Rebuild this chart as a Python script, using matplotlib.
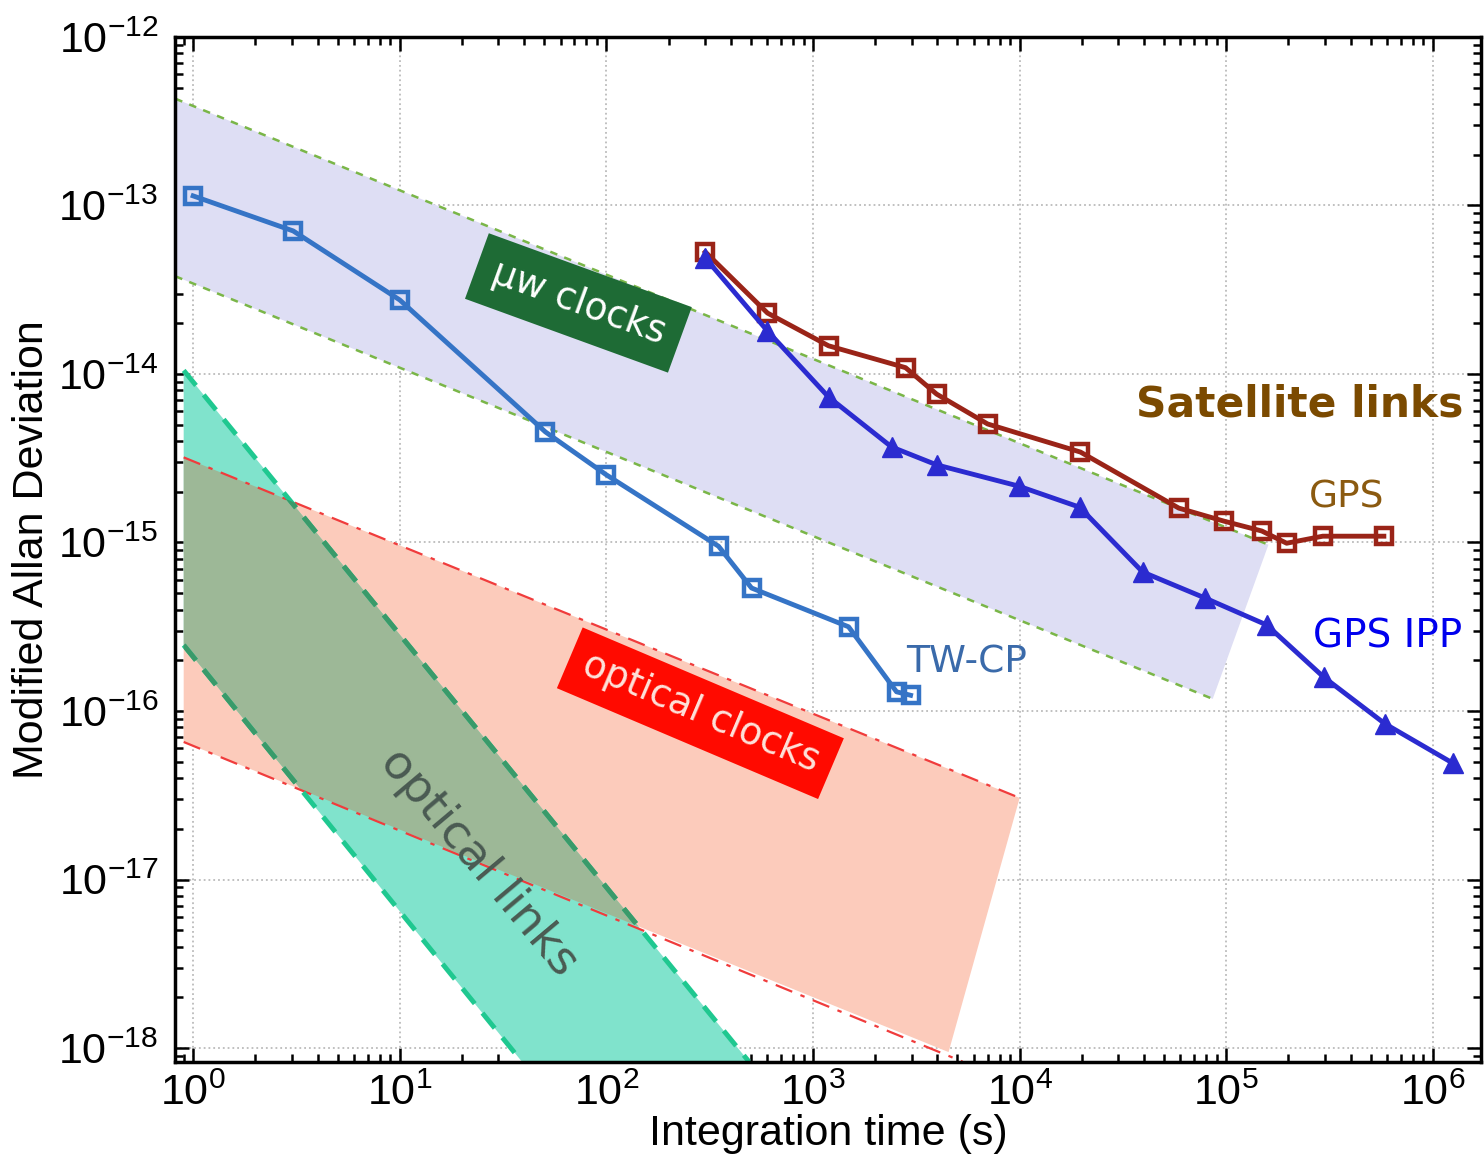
import numpy as np
import matplotlib
matplotlib.use('Agg')
import matplotlib.pyplot as plt
from matplotlib.patches import Polygon
from matplotlib.ticker import LogLocator, NullFormatter, FuncFormatter

plt.rcParams['font.family'] = 'Liberation Sans'
plt.rcParams['mathtext.fontset'] = 'custom'
plt.rcParams['mathtext.rm'] = 'Liberation Sans'
plt.rcParams['mathtext.it'] = 'Liberation Sans:italic'
plt.rcParams['axes.unicode_minus'] = False

# TW-CP
tw_tau = [1, 3.05, 10, 50.7, 100, 349, 504, 1486, 2537, 2966]
tw_adev = [1.14e-13, 7.06e-14, 2.75e-14, 4.53e-15, 2.52e-15, 9.5e-16, 5.37e-16, 3.16e-16, 1.30e-16, 1.24e-16]

# GPS
gps_tau = [301, 602, 1189, 2805, 3963, 7000, 19700, 58900, 97200, 148600, 196000, 293000, 579000]
gps_adev = [5.3e-14, 2.30e-14, 1.47e-14, 1.09e-14, 7.6e-15, 5.05e-15, 3.44e-15, 1.60e-15, 1.34e-15,
            1.17e-15, 9.9e-16, 1.09e-15, 1.09e-15]

# GPS IPP
ipp_tau = [301, 602, 1189, 2400, 3963, 9900, 19500, 39400, 78700, 157000, 296000, 586000, 1.25e6]
ipp_adev = [4.88e-14, 1.80e-14, 7.3e-15, 3.69e-15, 2.89e-15, 2.16e-15, 1.62e-15, 6.68e-16, 4.69e-16,
            3.24e-16, 1.59e-16, 8.4e-17, 4.9e-17]

# bands (edge end points)
mw_top_tau, mw_top_val = [0.82, 1.6e5], [4.3e-13, 9.7e-16]
mw_bot_tau, mw_bot_val = [0.82, 8.6e4], [3.8e-14, 1.18e-16]

oc_top_tau, oc_top_val = [0.9, 1.0e4], [3.2e-15, 3.05e-17]
oc_bot_tau, oc_bot_val = [0.9, 4530], [6.55e-17, 9.46e-19]
oc_bot_line_tau, oc_bot_line_val = [0.9, 5300], [6.55e-17, 8.3e-19]

ol_top_tau, ol_top_val = [0.9, 490], [1.05e-14, 8.3e-19]
ol_bot_tau, ol_bot_val = [0.9, 39], [2.46e-16, 8.3e-19]

x_ticks = [1e0, 1e1, 1e2, 1e3, 1e4, 1e5, 1e6]
y_ticks = [1e-18, 1e-17, 1e-16, 1e-15, 1e-14, 1e-13, 1e-12]

fig = plt.figure(figsize=(14.84, 11.55), dpi=100)
ax = fig.add_axes([0.118, 0.0805, 0.88, 0.8875])
ax.set_xscale('log')
ax.set_yscale('log')
ax.set_xlim(0.818, 1.71e6)
ax.set_ylim(8.26e-19, 1e-12)

# microwave clocks band
mw_poly = list(zip(mw_top_tau, mw_top_val)) + list(zip(mw_bot_tau[::-1], mw_bot_val[::-1]))
ax.add_patch(Polygon(mw_poly, closed=True, facecolor='#dedef4', edgecolor='none', zorder=1))
ax.plot(mw_top_tau, mw_top_val, color='#7ab648', lw=1.8, ls=(0, (3, 3)), zorder=2)
ax.plot(mw_bot_tau, mw_bot_val, color='#7ab648', lw=1.8, ls=(0, (3, 3)), zorder=2)

# optical clocks band
oc_poly = list(zip(oc_top_tau, oc_top_val)) + list(zip(oc_bot_tau[::-1], oc_bot_val[::-1]))
oc_patch = Polygon(oc_poly, closed=True, facecolor='#fccbbb', edgecolor='none', zorder=1)
ax.add_patch(oc_patch)
ax.plot(oc_top_tau, oc_top_val, color='#f03c3c', lw=1.6, ls=(0, (8, 4, 2, 4)), zorder=2)
ax.plot(oc_bot_line_tau, oc_bot_line_val, color='#f03c3c', lw=1.6, ls=(0, (8, 4, 2, 4)), zorder=2)

# optical links band
ol_poly = list(zip(ol_top_tau, ol_top_val)) + list(zip(ol_bot_tau[::-1], ol_bot_val[::-1]))
ax.add_patch(Polygon(ol_poly, closed=True, facecolor='#80e3cc', edgecolor='none', zorder=1.5))
overlap = Polygon(ol_poly, closed=True, facecolor='#9db897', edgecolor='none', zorder=1.6)
ax.add_patch(overlap)
overlap.set_clip_path(oc_patch)
for tt, vv in [(ol_top_tau, ol_top_val), (ol_bot_tau, ol_bot_val)]:
    ax.plot(tt, vv, color='#1fc890', lw=3.5, ls=(0, (4, 2.5)), zorder=2.5)
    dark, = ax.plot(tt, vv, color='#3a9a6a', lw=3.5, ls=(0, (4, 2.5)), zorder=2.6)
    dark.set_clip_path(oc_patch)

# data
ax.plot(tw_tau, tw_adev, color='#3574c6', lw=3.5, marker='s', ms=12, mfc='none', mew=3.2, zorder=5)
ax.plot(gps_tau, gps_adev, color='#9a2418', lw=3.5, marker='s', ms=12, mfc='none', mew=3.2, zorder=5)
ax.plot(ipp_tau, ipp_adev, color='#2b2bd0', lw=3.5, marker='^', ms=14, zorder=5)

# labels
ax.text(73.2, 2.64e-14, 'μw clocks', family='DejaVu Sans', fontsize=27, color='white', rotation=-20,
        ha='center', va='center', rotation_mode='anchor', zorder=4,
        bbox=dict(boxstyle='square,pad=0.45', facecolor='#1e6b35', edgecolor='none'))
ax.text(285, 9.7e-17, 'optical clocks', family='DejaVu Sans', fontsize=27, color='#fde2da', rotation=-23,
        ha='center', va='center', rotation_mode='anchor', zorder=4,
        bbox=dict(boxstyle='square,pad=0.4', facecolor='#ff0a00', edgecolor='none'))
ax.text(24, 1.27e-17, 'optical links', family='DejaVu Sans', fontsize=34, color='#4a5a52', rotation=-50,
        ha='center', va='center', rotation_mode='anchor', zorder=4)
ax.text(1.4e6, 6.55e-15, 'Satellite links', family='DejaVu Sans', fontsize=30.5, fontweight='bold',
        color='#7b4a00', ha='right', va='center', zorder=6)
ax.text(2.51e5, 1.86e-15, 'GPS', family='DejaVu Sans', fontsize=27, color='#8b5a10', ha='left', va='center', zorder=6)
ax.text(2.62e5, 2.75e-16, 'GPS IPP', family='DejaVu Sans', fontsize=28, color='#0000ee', ha='left', va='center', zorder=6)
ax.text(2838, 1.95e-16, 'TW-CP', family='DejaVu Sans', fontsize=27, color='#3a6aaa', ha='left', va='center', zorder=6)

# axes styling
ax.set_xticks(x_ticks)
ax.set_yticks(y_ticks)
fmt = FuncFormatter(lambda v, p: r'$\mathregular{10^{%d}}$' % round(np.log10(v)))
ax.xaxis.set_major_formatter(fmt)
ax.yaxis.set_major_formatter(fmt)
ax.xaxis.set_minor_locator(LogLocator(base=10, subs=np.arange(2, 10), numticks=20))
ax.yaxis.set_minor_locator(LogLocator(base=10, subs=np.arange(2, 10), numticks=20))
ax.xaxis.set_minor_formatter(NullFormatter())
ax.yaxis.set_minor_formatter(NullFormatter())
ax.tick_params(which='both', direction='in', top=True, right=True, width=1.8, color='black')
ax.tick_params(which='major', length=10, labelsize=31)
ax.tick_params(axis='x', which='major', pad=8)
ax.tick_params(axis='y', which='major', pad=12)
ax.tick_params(which='minor', length=5.5)
ax.grid(True, which='major', ls=':', color='#bbbbbb', lw=1.3, zorder=0)
ax.set_axisbelow(True)
for sp in ax.spines.values():
    sp.set_linewidth(2.5)

ax.set_xlabel('Integration time (s)', fontsize=31, labelpad=0)
ax.set_ylabel('Modified Allan Deviation', fontsize=31, labelpad=4)

fig.savefig('out.png', dpi=100)
